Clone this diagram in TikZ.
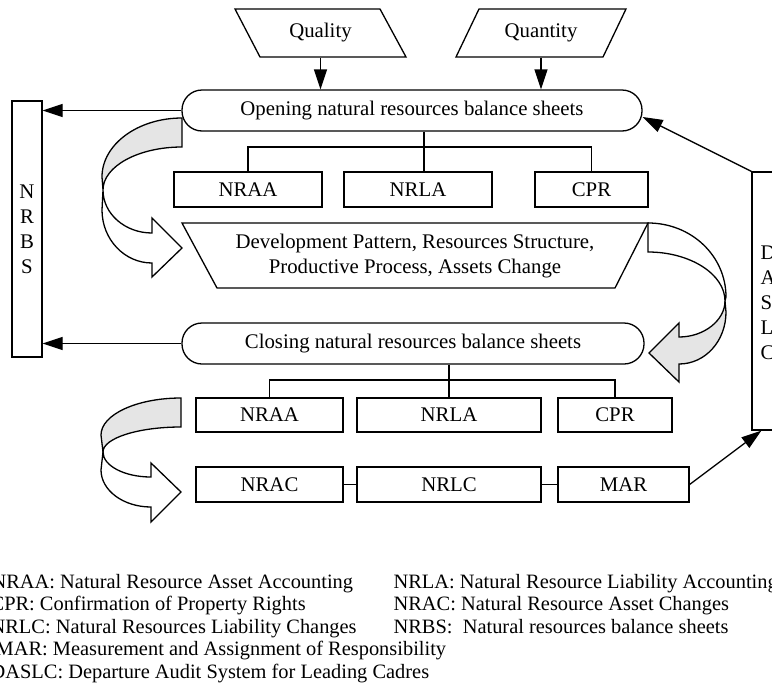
\documentclass[tikz,border=0pt]{standalone}
\usepackage{fontspec}
\setmainfont{Liberation Serif}
\usetikzlibrary{arrows.meta,calc}
\begin{document}
\begin{tikzpicture}[x=0.5pt,y=-0.5pt,
  line width=0.65pt,
  txt/.style={font=\fontsize{10.4pt}{12.5pt}\selectfont},
  lgd/.style={font=\fontsize{10.2pt}{12pt}\selectfont, anchor=base west, inner sep=0pt},
  box/.style={draw, rectangle, inner sep=0pt, txt},
  ghost/.style={rectangle, inner sep=0pt, txt},
  arr/.style={-{Triangle[length=10pt,width=6.5pt]}},
  backface/.style={fill=black!10, draw=black},
  frontface/.style={fill=white, draw=black}
]
\useasboundingbox (0,0) rectangle (772,691);

% top inputs
\draw (235,9) -- (380,9) -- (406,57) -- (260,57) -- cycle;
\node[ghost, minimum width=73pt, minimum height=24pt] (quality) at (320.5,33) {Quality};
\draw (479,9) -- (626,9) -- (603,57) -- (456,57) -- cycle;
\node[ghost, minimum width=73pt, minimum height=24pt] (quantity) at (541,33) {Quantity};

% opening
\node[box, rounded corners=10pt, minimum width=230pt, minimum height=20.5pt] (open) at (412,110.5) {Opening natural resources balance sheets};

\node[box, minimum width=74pt, minimum height=17.5pt] (nraa1) at (248,189.5) {NRAA};
\node[box, minimum width=74pt, minimum height=17.5pt] (nrla1) at (418,189.5) {NRLA};
\node[box, minimum width=56.5pt, minimum height=17.5pt] (cpr1) at (591.5,189.5) {CPR};

% trapezoid
\draw (182,223) -- (648,223) -- (615,288) -- (217,288) -- cycle;
\node[ghost, align=center, minimum width=233pt, minimum height=32.5pt] (trap) at (415,256) {Development Pattern, Resources Structure,\\Productive Process, Assets Change};

% closing
\node[box, rounded corners=10pt, minimum width=231pt, minimum height=20.5pt] (close) at (413,343.5) {Closing natural resources balance sheets};

\node[box, minimum width=73.5pt, minimum height=17pt] (nraa2) at (269.5,415) {NRAA};
\node[box, minimum width=92pt, minimum height=17pt] (nrla2) at (449,415) {NRLA};
\node[box, minimum width=57pt, minimum height=17pt] (cpr2) at (615,415) {CPR};

\node[box, minimum width=73.5pt, minimum height=17.5pt] (nrac) at (269.5,484.5) {NRAC};
\node[box, minimum width=92pt, minimum height=17.5pt] (nrlc) at (449,484.5) {NRLC};
\node[box, minimum width=65.5pt, minimum height=17.5pt] (mar) at (623.5,484.5) {MAR};

% side boxes
\node[box, align=center, minimum width=15pt, minimum height=128pt, font=\fontsize{10.4pt}{12.5pt}\selectfont] (nrbs) at (27,229) {N\\R\\B\\S};
\node[draw, rectangle, inner sep=0pt, minimum width=24pt, minimum height=129pt] (daslc) at (776,301) {};
\node[ghost, align=left, anchor=west, font=\fontsize{10.4pt}{12.5pt}\selectfont] (daslctext) at (760,303) {D\\A\\S\\L\\C};

% arrows
\draw[arr] (quality.south) -- (quality.south |- open.north);
\draw[arr] (quantity.south) -- (quantity.south |- open.north);
\draw[arr] (open.west) -- (open.west -| nrbs.east);
\draw[arr] (close.west) -- (close.west -| nrbs.east);
\draw[arr] (daslc.north west) -- ($(open.east)+(0,6.5)$);
\draw[arr] (mar.east) -- ($(daslc.south west)+(10,0)$);

% trees
\coordinate (t1) at (424,147);
\draw (open.south -| t1) -- (t1 |- nrla1.north);
\draw (nraa1.north) |- (t1) -| (cpr1.north);
\coordinate (t2) at (449,380);
\draw (close.south -| t2) -- (t2 |- nrla2.north);
\draw (nraa2.north) |- (t2) -| (cpr2.north);
\draw (nrac.east) -- (nrlc.west);
\draw (nrlc.east) -- (mar.west);

% curved arrow A (top left)
\filldraw[backface] (182,118) .. controls (137.8,118) and (102,144.4) .. (102,177) -- (103,190) .. controls (103,166.3) and (138.4,147) .. (182,147) -- cycle;
\filldraw[frontface] (103,190) .. controls (103,213.7) and (124.9,233) .. (152,233) -- (152,218) -- (182,248) -- (152,277) -- (152,263) .. controls (124.4,263) and (102,239.3) .. (102,210) -- cycle;

% curved arrow B (right)
\filldraw[frontface] (648,223) .. controls (691.6,223) and (726,256.1) .. (726,297) -- (725,301) .. controls (725,274.4) and (690.5,252) .. (648,252) -- cycle;
\filldraw[backface] (725,301) .. controls (725,320) and (704.4,337) .. (679,337) -- (679,323) -- (649,353) -- (679,382) -- (679,364) .. controls (705.5,364) and (726,340.7) .. (726,312) -- cycle;

% curved arrow C (bottom left)
\filldraw[backface] (181,398) .. controls (136.8,398) and (101,414.6) .. (101,435) -- (103,452) .. controls (103,438.2) and (137.9,427) .. (181,427) -- cycle;
\filldraw[frontface] (103,452) .. controls (103,465.8) and (124.5,477) .. (151,477) -- (151,463) -- (181,492) -- (151,522) -- (151,507) .. controls (123.4,507) and (101,490.4) .. (101,470) -- cycle;

% legend
\node[lgd] (l1) at (-9,588) {NRAA: Natural Resource Asset Accounting};
\node[lgd] (l2) at (-10,610.5) {CPR: Confirmation of Property Rights};
\node[lgd] (l3) at (-10,633) {NRLC: Natural Resources Liability Changes};
\node[lgd] (l4) at (-5,655.5) {MAR: Measurement and Assignment of Responsibility};
\node[lgd] (l5) at (-10,678) {DASLC: Departure Audit System for Leading Cadres};
\node[lgd] (l6) at (393,588) {NRLA: Natural Resource Liability Accounting};
\node[lgd] (l7) at (393,610.5) {NRAC: Natural Resource Asset Changes};
\node[lgd] (l8) at (393,633) {NRBS:\ \ Natural resources balance sheets};
\end{tikzpicture}
\end{document}
